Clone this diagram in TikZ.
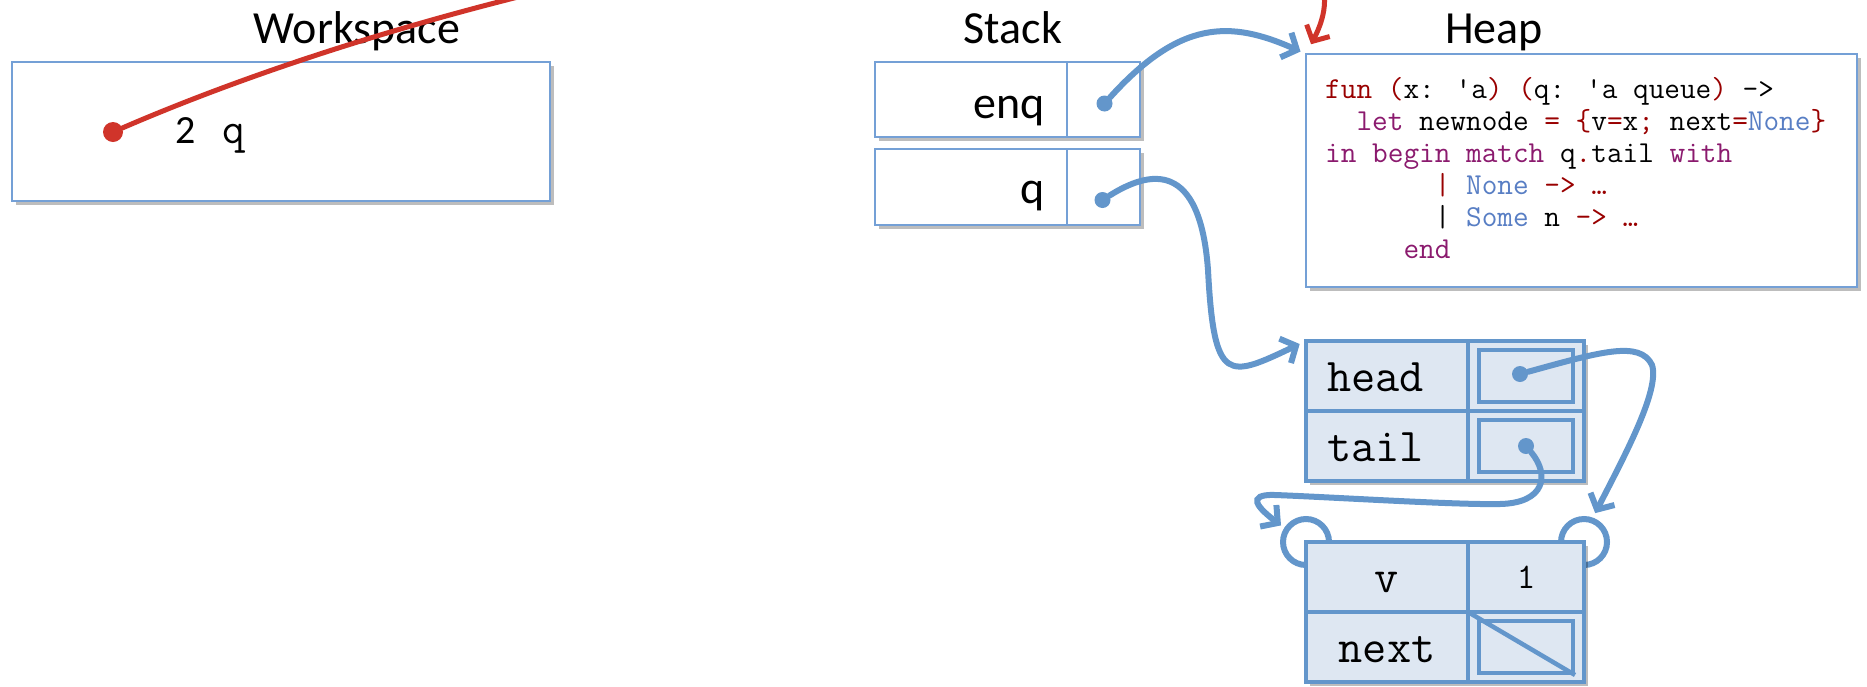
\documentclass[tikz,border=0pt]{standalone}
\usepackage{fontspec}
\setsansfont{Carlito}
\usepackage{tikz}
\usetikzlibrary{arrows.meta,positioning,calc,shadows,backgrounds}

\definecolor{frameblue}{RGB}{116,160,214}
\definecolor{linkblue}{RGB}{99,150,203}
\definecolor{cellfill}{RGB}{222,231,242}
\definecolor{linkred}{RGB}{208,52,42}
\definecolor{kwred}{RGB}{153,0,0}
\definecolor{kwpurple}{RGB}{139,26,110}
\definecolor{kwblue}{RGB}{88,126,196}

\newcommand{\kr}[1]{\textcolor{kwred}{#1}}
\newcommand{\kp}[1]{\textcolor{kwpurple}{#1}}
\newcommand{\kb}[1]{\textcolor{kwblue}{#1}}

\begin{document}
\begin{tikzpicture}[
    x=1pt, y=-1pt,
    %---- text ----
    title/.style   = {font=\sffamily\fontsize{46}{46}\selectfont, anchor=base, inner sep=0pt},
    slot/.style    = {font=\sffamily\fontsize{46}{46}\selectfont, anchor=base east, inner sep=0pt},
    %---- boxes ----
    softshadow/.style = {drop shadow={shadow xshift=4pt, shadow yshift=-4pt, fill=black, opacity=0.26}},
    panel/.style   = {rectangle, draw=frameblue, line width=1.8pt, fill=white,
                      inner sep=0pt, outer sep=0pt, softshadow},
    cell/.style    = {rectangle, draw=linkblue, line width=3.6pt, fill=cellfill,
                      inner sep=0pt, outer sep=0pt, minimum height=70pt,
                      text height=30pt, text depth=0pt,
                      font=\ttfamily\fontsize{47}{47}\selectfont, softshadow},
    keycell/.style  = {cell, minimum width=162pt},
    lkeycell/.style = {keycell, align=left, text width=120pt, inner xsep=21pt},
    valcell/.style  = {cell, minimum width=116pt},
    ptr/.style     = {rectangle, draw=linkblue, line width=4pt, inner sep=0pt,
                      minimum width=94pt, minimum height=52pt},
    ring/.style    = {circle, draw=linkblue, line width=6pt, minimum size=46pt, inner sep=0pt},
    bdot/.style    = {circle, fill=linkblue, minimum size=16pt, inner sep=0pt},
    rdot/.style    = {circle, fill=linkred, minimum size=20pt, inner sep=0pt},
    %---- links ----
    link/.style    = {draw=linkblue, line width=6pt, line cap=round,
                      -{Straight Barb[length=12pt, width=27pt]}},
    redlink/.style = {draw=linkred, line width=5pt, line cap=round,
                      -{Straight Barb[length=12pt, width=26pt]}},
]
\useasboundingbox (0,0) rectangle (1867,686);

%---- WORKSPACE ----
\node[title] (wslbl) at (357,43) {Workspace};
\node[panel, anchor=north west, minimum width=538pt, minimum height=139pt] (ws) at (12,62) {};
\node[rdot] (wsdot) at (113,132) {};
\node[anchor=base west, inner sep=0pt] (wsexpr) at (175,143)
     {\sffamily\fontsize{40}{40}\selectfont 2\hspace{27pt}\ttfamily\fontsize{44}{44}\selectfont q};

%---- STACK ----
\node[title] (stacklbl) at (1013,43) {Stack};
\node[panel, anchor=north west, minimum width=192pt, minimum height=75pt] (enqkey) at (875,62) {};
\node[panel, right=0pt of enqkey, minimum width=73pt, minimum height=75pt] (enqval) {};
\node[panel, below=12pt of enqkey, minimum width=192pt, minimum height=76pt] (qkey) {};
\node[panel, right=0pt of qkey, minimum width=73pt, minimum height=76pt] (qval) {};
\node[slot] (enqlbl) at ($(enqkey.east)+(-22,19)$) {enq};
\node[slot] (qlbl) at ($(qkey.east)+(-22,16)$) {q};
\node[bdot] (enqdot) at ($(enqval.center)+(1,4)$) {};
\node[bdot] (qdot) at ($(qval.center)+(-1,13)$) {};

%---- HEAP ----
\node[title] (heaplbl) at (1494,43) {Heap};
\node[panel, anchor=north west, minimum width=551pt, minimum height=233pt] (heap) at (1306,54) {};
\node[anchor=base west, align=left, inner sep=0pt,
      font=\ttfamily\fontsize{30.4}{32}\selectfont] (heapcode) at (1325,258)
  {\kr{fun} \kr{(}x: 'a\kr{)} \kr{(}q: 'a queue\kr{)} ->\\
   ~~\kp{let} newnode \kr{=} \kr{\{}v\kr{=}x\kr{;} next\kr{=}\kb{None}\kr{\}}\\
   \kp{in} \kp{begin} \kp{match} q\kr{.}tail \kp{with}\\
   ~~~~~~~\kr{|} \kb{None} \kr{-> …}\\
   ~~~~~~~| \kb{Some} n \kr{-> …}\\
   ~~~~~\kp{end}};

% queue record
\node[lkeycell, anchor=north west] (headkey) at (1306,341) {head};
\node[valcell, right=0pt of headkey] (headval) {};
\node[lkeycell, below=0pt of headkey] (tailkey) {tail};
\node[valcell, right=0pt of tailkey] (tailval) {};
\node[ptr] (headptr) at (headval) {};
\node[ptr] (tailptr) at (tailval) {};
\node[bdot] (headdot) at ($(headval.center)+(-6,-2)$) {};
\node[bdot] (taildot) at (tailval) {};

% list node
\node[keycell, anchor=north west] (vkey) at (1306,542) {v};
\node[valcell, right=0pt of vkey, font=\ttfamily\fontsize{36}{36}\selectfont, text height=22pt] (vval) {1};
\node[keycell, below=0pt of vkey] (nextkey) {next};
\node[valcell, right=0pt of nextkey] (nextval) {};
\node[ptr] (nextptr) at (nextval) {};
\draw[linkblue, line width=4.5pt] (nextval.north west) -- (nextptr.south east);
\begin{scope}[on background layer]
  \node[ring] (lring) at (vkey.north west) {};
  \node[ring] (rring) at (vval.north east) {};
\end{scope}

%---- LINKS ----
\path[redlink, shorten >=11pt] (wsdot) .. controls (618,-86) and (1427,-179) .. (heap.north west);
\path[link, shorten >=6pt] (enqdot) .. controls (1180,20) and (1230,20) .. (heap.north west);
\path[link, shorten >=7pt] (qdot) .. controls (1150,170) and (1200,160) .. (1208,270)
                                  .. controls (1214,385) and (1228,378) .. (headkey.north west);
\path[link, shorten >=5pt] (headdot) .. controls (1600,352) and (1640,340) .. (1652,365)
                                     .. controls (1660,390) and (1625,455) .. (rring.70);
\path[link, shorten >=4pt] (taildot) .. controls (1550,475) and (1545,503) .. (1500,504)
                                     .. controls (1455,505) and (1330,497) .. (1275,495)
                                     .. controls (1245,494) and (1258,508) .. (lring.147);
\end{tikzpicture}
\end{document}
